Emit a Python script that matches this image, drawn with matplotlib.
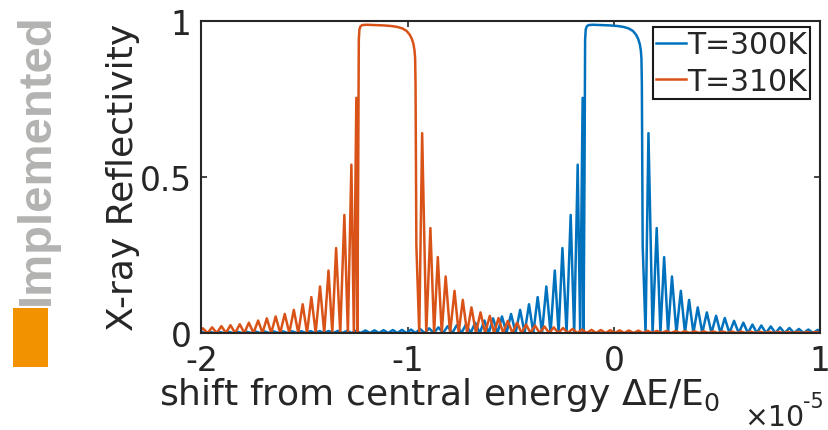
import numpy as np
import matplotlib
matplotlib.use("Agg")
import matplotlib.pyplot as plt
from matplotlib.patches import Rectangle

plt.rcParams["font.family"] = "DejaVu Sans"
plt.rcParams["axes.unicode_minus"] = False

# Rocking curves of the crystal at two temperatures (energy offsets in units of 1e-5)
temperatures = ["T=300K", "T=310K"]
bragg_center = [-0.003, -1.100]
line_colors = ["#0072BD", "#D95319"]

# Total-reflection plateau, offset from the Bragg centre
plateau_offset = [-0.140, -0.137, -0.134, -0.129, -0.120, -0.100, -0.060, -0.020,
                  0.020, 0.050, 0.075, 0.095, 0.110, 0.120, 0.128, 0.133, 0.136,
                  0.138, 0.140, 0.142]
plateau_refl = [0.50, 0.94, 0.972, 0.982, 0.986, 0.987, 0.986, 0.985,
                0.983, 0.980, 0.975, 0.967, 0.955, 0.942, 0.925, 0.905, 0.88,
                0.80, 0.55, 0.28]

# Pendellosung side lobes below the plateau (nearest first)
left_lobe_offset = [-0.149, -0.173, -0.207, -0.247, -0.284, -0.325, -0.367, -0.409,
                    -0.452, -0.496, -0.540, -0.583, -0.625, -0.670, -0.714, -0.759,
                    -0.803, -0.848, -0.893, -0.937, -0.981, -1.025, -1.069, -1.114,
                    -1.158, -1.202, -1.247, -1.291, -1.335, -1.380, -1.424, -1.468,
                    -1.513, -1.557, -1.601, -1.646, -1.690, -1.734, -1.779, -1.823,
                    -1.867, -1.912, -1.956, -2.000, -2.045]
left_lobe_refl = [0.753, 0.539, 0.378, 0.272, 0.200, 0.149, 0.115, 0.092,
                  0.074, 0.061, 0.053, 0.047, 0.040, 0.033, 0.028, 0.025,
                  0.022, 0.018, 0.015, 0.013, 0.011, 0.010, 0.0095, 0.009,
                  0.0085, 0.008, 0.0075, 0.007, 0.0068, 0.0065, 0.0062, 0.006,
                  0.0057, 0.0055, 0.0052, 0.005, 0.0048, 0.0046, 0.0044, 0.0042,
                  0.004, 0.0038, 0.0036, 0.0035, 0.0034]

# Side lobes above the plateau (nearest first)
right_lobe_offset = [0.170, 0.210, 0.246, 0.284, 0.327, 0.367, 0.409, 0.453,
                     0.498, 0.540, 0.585, 0.630, 0.674, 0.717, 0.763, 0.808,
                     0.853, 0.899, 0.945, 0.991, 1.036, 1.082, 1.127, 1.172,
                     1.218, 1.263, 1.308, 1.354, 1.399, 1.444, 1.490, 1.535,
                     1.580, 1.626, 1.671, 1.716, 1.762, 1.807, 1.852, 1.898,
                     1.943, 1.988, 2.034, 2.079, 2.124]
right_lobe_refl = [0.640, 0.336, 0.243, 0.181, 0.135, 0.106, 0.082, 0.066,
                   0.055, 0.048, 0.039, 0.033, 0.027, 0.024, 0.021, 0.018,
                   0.016, 0.013, 0.011, 0.010, 0.0095, 0.009, 0.0085, 0.008,
                   0.0076, 0.0072, 0.0068, 0.0065, 0.0062, 0.006, 0.0057, 0.0055,
                   0.0053, 0.0051, 0.0049, 0.0047, 0.0045, 0.0043, 0.0042, 0.004,
                   0.0039, 0.0038, 0.0036, 0.0035, 0.0034]

# Reflectivity at the minimum between neighbouring lobes
trough_refl = 0.0

x_ticks = [-2, -1, 0, 1]
x_tick_labels = ["-2", "-1", "0", "1"]
y_ticks = [0, 0.5, 1]
y_tick_labels = ["0", "0.5", "1"]


def rocking_curve(center):
    xs, ys = [], []
    lobes = list(zip(left_lobe_offset, left_lobe_refl))[::-1]
    for i, (d, r) in enumerate(lobes):
        xs.append(d)
        ys.append(r)
        nxt = lobes[i + 1][0] if i + 1 < len(lobes) else plateau_offset[0]
        xs.append(0.5 * (d + nxt))
        ys.append(trough_refl)
    xs += plateau_offset
    ys += plateau_refl
    prev = plateau_offset[-1]
    for d, r in zip(right_lobe_offset, right_lobe_refl):
        xs.append(0.5 * (prev + d))
        ys.append(trough_refl)
        xs.append(d)
        ys.append(r)
        prev = d
    return np.asarray(xs) + center, np.asarray(ys)


W, H = 829, 431
fig = plt.figure(figsize=(W / 100, H / 100), dpi=100)
ax = fig.add_axes([201.4 / W, 1 - 334 / H, 618.9 / W, 312.3 / H])

for label, c0, col in zip(temperatures, bragg_center, line_colors):
    x, y = rocking_curve(c0)
    ax.plot(x, y, color=col, lw=1.8, label=label)

ax.set_xlim(-2, 1)
ax.set_ylim(0, 1)
ax.set_xticks(x_ticks)
ax.set_xticklabels(x_tick_labels)
ax.set_yticks(y_ticks)
ax.set_yticklabels(y_tick_labels)

dark = "#262626"
for s in ax.spines.values():
    s.set_linewidth(1.5)
    s.set_color(dark)
ax.tick_params(direction="in", length=4.5, width=1.2, top=True, right=True,
               labelsize=23.7, colors=dark)
ax.tick_params(axis="x", pad=8)
ax.tick_params(axis="y", pad=7)

ax.set_ylabel("X-ray Reflectivity", fontsize=26, color=dark)
ax.yaxis.set_label_coords(-0.099, 0.5)
ax.set_xlabel("shift from central energy \u0394E/E$_0$", fontsize=26, color=dark)
ax.xaxis.set_label_coords(0.3855, -0.134)

fig.text(744 / W, 1 - 426 / H, "\u00d710", fontsize=20.5, color=dark,
         ha="left", va="baseline")
fig.text(803 / W, 1 - 408 / H, "-5", fontsize=15, color=dark,
         ha="left", va="baseline")

leg = ax.legend(loc="upper right", bbox_to_anchor=(0.9834, 0.9789),
                borderaxespad=0, fontsize=21.5, handlelength=1.0,
                handletextpad=0.05, borderpad=0.1, labelspacing=0.25,
                fancybox=False, framealpha=1, edgecolor="#1a1a1a")
leg.get_frame().set_linewidth(1.5)
for t in leg.get_texts():
    t.set_color(dark)

fig.text(15 / W, 1 - 305 / H, "Implemented", rotation=90, fontsize=34,
         fontweight="bold", family="Liberation Sans", color="#b3b4b2",
         ha="left", va="bottom")
fig.add_artist(Rectangle((12.7 / W, 1 - 368 / H), 35.3 / W, 59 / H,
                         transform=fig.transFigure, color="#f39200", lw=0))

fig.savefig("out.png", dpi=100)
